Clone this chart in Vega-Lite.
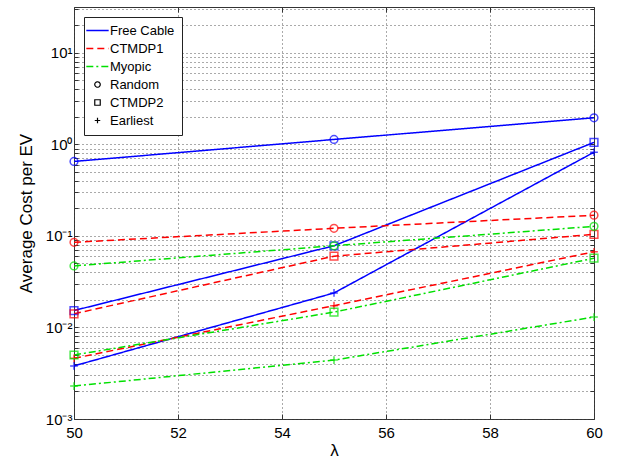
{
  "$schema": "https://vega.github.io/schema/vega-lite/v6.json",
  "width": 520,
  "height": 412,
  "autosize": "none",
  "padding": {"left": 74, "top": 7, "right": 24, "bottom": 41},
  "background": "white",
  "config": {
    "font": "Liberation Sans",
    "view": {"stroke": "#333", "strokeWidth": 1},
    "axis": {
      "domain": false,
      "tickColor": "#333",
      "labelColor": "black",
      "titleColor": "black",
      "labelFont": "Liberation Sans",
      "titleFont": "Liberation Sans",
      "titleFontWeight": "normal",
      "labelFontSize": 15,
      "titleFontSize": 17,
      "gridColor": "#444",
      "gridDash": [1, 3],
      "gridOpacity": 0.9
    }
  },
  "data": {
    "values": [
      {"method": "Free Cable", "policy": "Random", "lambda": 50, "cost": 0.65},
      {"method": "Free Cable", "policy": "Random", "lambda": 55, "cost": 1.13},
      {"method": "Free Cable", "policy": "Random", "lambda": 60, "cost": 1.95},
      {"method": "Free Cable", "policy": "CTMDP2", "lambda": 50, "cost": 0.0153},
      {"method": "Free Cable", "policy": "CTMDP2", "lambda": 55, "cost": 0.078},
      {"method": "Free Cable", "policy": "CTMDP2", "lambda": 60, "cost": 1.05},
      {"method": "Free Cable", "policy": "Earliest", "lambda": 50, "cost": 0.0038},
      {"method": "Free Cable", "policy": "Earliest", "lambda": 55, "cost": 0.0238},
      {"method": "Free Cable", "policy": "Earliest", "lambda": 60, "cost": 0.82},
      {"method": "CTMDP1", "policy": "Random", "lambda": 50, "cost": 0.085},
      {"method": "CTMDP1", "policy": "Random", "lambda": 55, "cost": 0.121},
      {"method": "CTMDP1", "policy": "Random", "lambda": 60, "cost": 0.168},
      {"method": "CTMDP1", "policy": "CTMDP2", "lambda": 50, "cost": 0.0141},
      {"method": "CTMDP1", "policy": "CTMDP2", "lambda": 55, "cost": 0.06},
      {"method": "CTMDP1", "policy": "CTMDP2", "lambda": 60, "cost": 0.104},
      {"method": "CTMDP1", "policy": "Earliest", "lambda": 50, "cost": 0.0046},
      {"method": "CTMDP1", "policy": "Earliest", "lambda": 55, "cost": 0.0173},
      {"method": "CTMDP1", "policy": "Earliest", "lambda": 60, "cost": 0.067},
      {"method": "Myopic", "policy": "Random", "lambda": 50, "cost": 0.047},
      {"method": "Myopic", "policy": "Random", "lambda": 55, "cost": 0.078},
      {"method": "Myopic", "policy": "Random", "lambda": 60, "cost": 0.127},
      {"method": "Myopic", "policy": "CTMDP2", "lambda": 50, "cost": 0.005},
      {"method": "Myopic", "policy": "CTMDP2", "lambda": 55, "cost": 0.0147},
      {"method": "Myopic", "policy": "CTMDP2", "lambda": 60, "cost": 0.057},
      {"method": "Myopic", "policy": "Earliest", "lambda": 50, "cost": 0.00229},
      {"method": "Myopic", "policy": "Earliest", "lambda": 55, "cost": 0.0044},
      {"method": "Myopic", "policy": "Earliest", "lambda": 60, "cost": 0.013}
    ]
  },
  "resolve": {"axis": {"x": "independent", "y": "independent"}},
  "layer": [
    {
      "mark": {"type": "line", "strokeWidth": 1.5, "clip": true},
      "encoding": {
        "x": {
          "field": "lambda", "type": "quantitative",
          "scale": {"domain": [50, 60], "nice": false, "zero": false},
          "axis": {"orient": "bottom", "values": [50, 52, 54, 56, 58, 60], "grid": true, "tickSize": -5, "labelPadding": 11, "title": "λ", "titlePadding": 2, "labelFlush": false}
        },
        "y": {
          "field": "cost", "type": "quantitative",
          "scale": {"type": "log", "domain": [0.001, 31.6], "nice": false},
          "axis": {
            "orient": "left",
            "values": [0.001, 0.002, 0.003, 0.004, 0.005, 0.006, 0.007, 0.008, 0.009, 0.01, 0.02, 0.03, 0.04, 0.05, 0.06, 0.07, 0.08, 0.09, 0.1, 0.2, 0.3, 0.4, 0.5, 0.6, 0.7, 0.8, 0.9, 1, 2, 3, 4, 5, 6, 7, 8, 9, 10, 20, 30],
            "labelExpr": "datum.value == 0.001 ? '10⁻³' : datum.value == 0.01 ? '10⁻²' : datum.value == 0.1 ? '10⁻¹' : datum.value == 1 ? '10⁰' : datum.value == 10 ? '10¹' : ''",
            "labelOverlap": false,
            "labelFlush": false,
            "grid": true,
            "tickSize": -4,
            "labelPadding": 6,
            "title": "Average Cost per EV",
            "titlePadding": 10
          }
        },
        "color": {
          "field": "method", "type": "nominal",
          "scale": {"domain": ["Free Cable", "CTMDP1", "Myopic", "Random", "CTMDP2", "Earliest"], "range": ["#0000ff", "#ff0000", "#00e000", "black", "black", "black"]},
          "legend": {
            "orient": "none", "legendX": 10, "legendY": 10, "title": null,
            "strokeColor": "#222", "fillColor": "white", "padding": 7,
            "labelFontSize": 13, "labelFont": "Liberation Sans", "labelColor": "black",
            "symbolSize": 784, "symbolStrokeWidth": 1.5, "rowPadding": 4, "labelOffset": 6,
            "encode": {
              "symbols": {
                "update": {
                  "shape": {"signal": "datum.value == 'Random' ? 'circle' : datum.value == 'CTMDP2' ? 'square' : datum.value == 'Earliest' ? 'M-1,0L1,0M0,-1L0,1' : 'stroke'"},
                  "size": {"signal": "datum.value == 'Random' || datum.value == 'CTMDP2' || datum.value == 'Earliest' ? 30 : 500"},
                  "strokeWidth": {"signal": "datum.value == 'Random' || datum.value == 'CTMDP2' || datum.value == 'Earliest' ? 1.2 : 1.5"}
                }
              }
            }
          }
        },
        "strokeDash": {
          "field": "method", "type": "nominal",
          "scale": {"domain": ["Free Cable", "CTMDP1", "Myopic", "Random", "CTMDP2", "Earliest"], "range": [[1, 0], [7, 4], [7, 3, 2, 3], [1, 0], [1, 0], [1, 0]]},
          "legend": {
            "orient": "none", "legendX": 10, "legendY": 10, "title": null,
            "strokeColor": "#222", "fillColor": "white", "padding": 7,
            "labelFontSize": 13, "labelFont": "Liberation Sans", "labelColor": "black",
            "symbolSize": 784, "symbolStrokeWidth": 1.5, "rowPadding": 4, "labelOffset": 6,
            "encode": {
              "symbols": {
                "update": {
                  "shape": {"signal": "datum.value == 'Random' ? 'circle' : datum.value == 'CTMDP2' ? 'square' : datum.value == 'Earliest' ? 'M-1,0L1,0M0,-1L0,1' : 'stroke'"},
                  "size": {"signal": "datum.value == 'Random' || datum.value == 'CTMDP2' || datum.value == 'Earliest' ? 30 : 500"},
                  "strokeWidth": {"signal": "datum.value == 'Random' || datum.value == 'CTMDP2' || datum.value == 'Earliest' ? 1.2 : 1.5"}
                }
              }
            }
          }
        },
        "detail": {"field": "policy", "type": "nominal"}
      }
    },
    {
      "mark": {"type": "point", "filled": false, "strokeWidth": 1.5, "size": 60, "clip": false},
      "encoding": {
        "x": {
          "field": "lambda", "type": "quantitative",
          "scale": {"domain": [50, 60], "nice": false, "zero": false},
          "axis": {"orient": "top", "values": [50, 52, 54, 56, 58, 60], "grid": false, "labels": false, "tickSize": -5, "title": null}
        },
        "y": {
          "field": "cost", "type": "quantitative",
          "scale": {"type": "log", "domain": [0.001, 31.6], "nice": false},
          "axis": {
            "orient": "right",
            "values": [0.001, 0.002, 0.003, 0.004, 0.005, 0.006, 0.007, 0.008, 0.009, 0.01, 0.02, 0.03, 0.04, 0.05, 0.06, 0.07, 0.08, 0.09, 0.1, 0.2, 0.3, 0.4, 0.5, 0.6, 0.7, 0.8, 0.9, 1, 2, 3, 4, 5, 6, 7, 8, 9, 10, 20, 30],
            "grid": false, "labels": false, "tickSize": -4, "title": null
          }
        },
        "stroke": {
          "field": "method", "type": "nominal",
          "scale": {"domain": ["Free Cable", "CTMDP1", "Myopic"], "range": ["#0000ff", "#ff0000", "#00e000"]},
          "legend": null
        },
        "shape": {
          "field": "policy", "type": "nominal",
          "scale": {"domain": ["Random", "CTMDP2", "Earliest"], "range": ["circle", "square", "M-1,0L1,0M0,-1L0,1"]},
          "legend": null
        }
      }
    }
  ]
}
